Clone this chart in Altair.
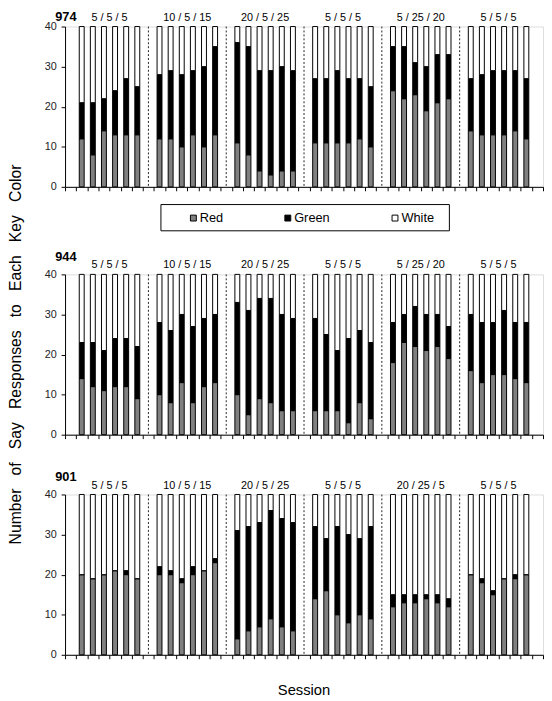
import altair as alt
import pandas as pd

FONT = "Liberation Sans"
TOTAL = 40  # trials per session

subjects = ["974", "944", "901"]
color_names = ["Red", "Green", "White"]
color_values = ["#808080", "#000000", "#ffffff"]

cond_974 = ["5 / 5 / 5", "10 / 5 / 15", "20 / 5 / 25", "5 / 5 / 5", "5 / 25 / 20", "5 / 5 / 5"]
cond_944 = ["5 / 5 / 5", "10 / 5 / 15", "20 / 5 / 25", "5 / 5 / 5", "5 / 25 / 20", "5 / 5 / 5"]
cond_901 = ["5 / 5 / 5", "10 / 5 / 15", "20 / 5 / 25", "5 / 5 / 5", "20 / 25 / 5", "5 / 5 / 5"]

red_974 = [12, 8, 14, 13, 13, 13,  12, 12, 10, 13, 10, 13,  11, 8, 4, 3, 4, 4,
           11, 11, 11, 11, 12, 10,  24, 22, 23, 19, 21, 22,  14, 13, 13, 13, 14, 12]
green_974 = [9, 13, 8, 11, 14, 12,  16, 17, 18, 16, 20, 22,  25, 27, 25, 26, 26, 25,
             16, 16, 18, 16, 15, 15,  11, 13, 8, 11, 12, 11,  13, 15, 16, 16, 15, 15]

red_944 = [14, 12, 11, 12, 12, 9,  10, 8, 13, 8, 12, 13,  10, 5, 9, 8, 6, 6,
           6, 6, 6, 3, 8, 4,  18, 23, 22, 21, 22, 19,  16, 13, 15, 15, 14, 13]
green_944 = [9, 11, 10, 12, 12, 13,  18, 18, 17, 19, 17, 17,  23, 26, 25, 26, 24, 23,
             23, 19, 15, 21, 18, 19,  10, 7, 10, 9, 8, 8,  14, 15, 13, 16, 14, 15]

red_901 = [20, 19, 20, 21, 20, 19,  20, 20, 18, 20, 21, 23,  4, 6, 7, 9, 7, 6,
           14, 16, 10, 8, 10, 9,  12, 13, 13, 14, 13, 12,  20, 18, 15, 19, 19, 20]
green_901 = [0, 0, 0, 0, 1, 0,  2, 1, 1, 2, 0, 1,  27, 26, 26, 27, 27, 27,
             18, 13, 22, 22, 19, 23,  3, 2, 2, 1, 2, 2,  0, 1, 1, 0, 1, 0]

y_ticks = [0, 10, 20, 30, 40]
y_title = "\u00a0\u00a0\u00a0".join(["Number", "of", "Say", "Responses", "to", "Each", "Key", "Color"])
x_title = "Session"

N_COND = 6
PER_COND = 6
SLOT = PER_COND + 1          # 6 sessions + 1 empty slot for the divider
N_SLOTS = N_COND * SLOT + 1  # 43 category slots on the x axis

PW, PH = 486, 163

x_scale = alt.Scale(domain=[0, N_SLOTS], nice=False, zero=False, padding=0)
y_scale = alt.Scale(domain=[0, TOTAL], nice=False)
c_scale = alt.Scale(domain=color_names, range=color_values)

x_axis = alt.Axis(values=list(range(N_SLOTS + 1)), labels=False, tickSize=4, grid=False,
                  title=None, domainColor="black", tickColor="black")
y_axis = alt.Axis(values=y_ticks, tickSize=4, labelPadding=5, labelFontSize=11, grid=False,
                  title=None, domainColor="black", tickColor="black", labelColor="#222",
                  labelFont=FONT)


def bar_table(red, green):
    rows = []
    for j in range(N_COND * PER_COND):
        c, k = divmod(j, PER_COND)
        pos = 1 + c * SLOT + k + 0.5
        vals = {"Red": red[j], "Green": green[j], "White": TOTAL - red[j] - green[j]}
        for o, name in enumerate(color_names):
            rows.append({"pos": pos, "Color": name, "n": vals[name], "ord": o})
    return pd.DataFrame(rows)


def panel(sid, red, green, conds, id_dy, legend=None, extra=()):
    df = bar_table(red, green)
    bars = alt.Chart(df).mark_bar(size=5, stroke="black", strokeWidth=1).encode(
        x=alt.X("pos:Q", scale=x_scale, axis=x_axis),
        y=alt.Y("n:Q", stack="zero", scale=y_scale, axis=y_axis),
        color=alt.Color("Color:N", scale=c_scale, legend=legend),
        order=alt.Order("ord:Q"),
    )

    dividers = alt.Chart(pd.DataFrame({"pos": [(c + 1) * SLOT + 0.5 for c in range(N_COND - 1)]})).mark_rule(
        strokeDash=[2, 2], color="#222", strokeWidth=1
    ).encode(x=alt.X("pos:Q", scale=x_scale, axis=x_axis))

    lab_df = pd.DataFrame({"label": conds,
                           "pos": [c * SLOT + 1 + PER_COND / 2 for c in range(N_COND)]})
    cond_labels = alt.Chart(lab_df).mark_text(
        fontSize=11, font=FONT, baseline="alphabetic", align="center", color="black"
    ).encode(x=alt.X("pos:Q", scale=x_scale, axis=x_axis), y=alt.value(-6), text="label:N")

    id_label = alt.Chart(pd.DataFrame({"id": [sid]})).mark_text(
        fontSize=13, font=FONT, fontWeight="bold", align="left", baseline="alphabetic", color="black"
    ).encode(x=alt.value(-10), y=alt.value(id_dy), text="id:N")

    return alt.layer(bars, dividers, cond_labels, id_label, *extra).properties(width=PW, height=PH)


legend = alt.Legend(
    orient="none", legendX=122, legendY=188, direction="horizontal", title=None,
    labelFontSize=13, labelFont=FONT, labelColor="black",
    symbolType="square", symbolSize=36, symbolStrokeColor="black", symbolStrokeWidth=1,
    symbolOpacity=1, symbolOffset=2, labelOffset=0, columnPadding=57, padding=0,
)

legend_frame = alt.Chart(pd.DataFrame({"f": [0]})).mark_rect(
    fillOpacity=0, stroke="black", strokeWidth=1
).encode(x=alt.value(97.5), x2=alt.value(390.8), y=alt.value(181), y2=alt.value(207.7))

session = alt.Chart(pd.DataFrame({"t": [x_title]})).mark_text(
    fontSize=15, font=FONT, align="center", baseline="alphabetic", color="black"
).encode(x=alt.value(PW / 2), y=alt.value(PH + 41), text="t:N")

p1 = panel(subjects[0], red_974, green_974, cond_974, -6, legend, extra=(legend_frame,))
p2 = panel(subjects[1], red_944, green_944, cond_944, -14)
p3 = panel(subjects[2], red_901, green_901, cond_901, -14, extra=(session,))

chart = alt.vconcat(
    p1, alt.vconcat(p2, p3, spacing=29.8), spacing=18
).resolve_legend(color="independent").properties(
    padding={"top": -4, "left": 0, "right": 0, "bottom": 0},
    title=alt.TitleParams(y_title, orient="left", anchor="middle", fontSize=16,
                          fontWeight="normal", font=FONT, offset=20, color="black"),
).configure_view(stroke=None).configure(font=FONT)

chart.save("out.html", embed_options={"renderer": "svg", "actions": False})
